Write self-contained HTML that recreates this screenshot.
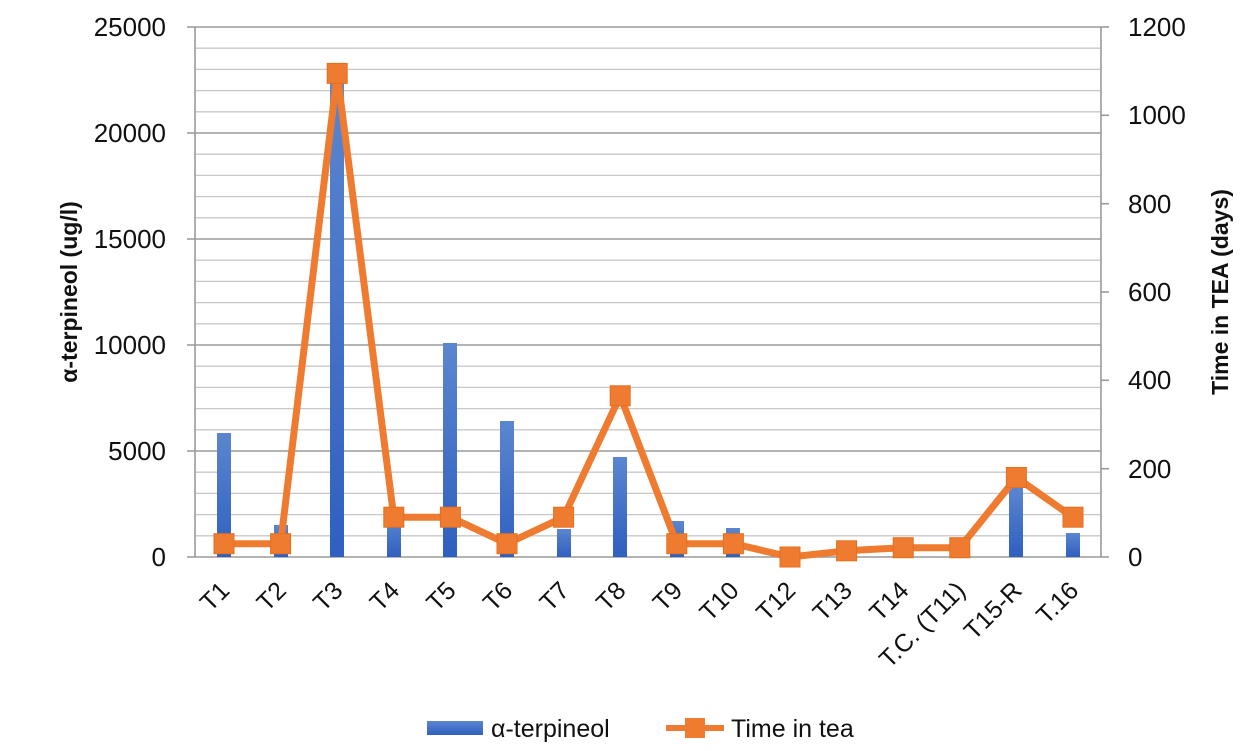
<!DOCTYPE html>
<html><head><meta charset="utf-8"><style>body{margin:0;background:#fff}svg{display:block}text{font-family:"Liberation Sans",sans-serif}</style></head><body>
<svg width="1245" height="751" viewBox="0 0 1245 751" xmlns="http://www.w3.org/2000/svg">
<defs><linearGradient id="g" x1="0" y1="0" x2="0" y2="1"><stop offset="0" stop-color="#5b86cf"/><stop offset="1" stop-color="#2f5fc0"/></linearGradient></defs>
<g stroke="#c8c8c8" stroke-width="1.3">
<line x1="195" x2="1101" y1="535.8" y2="535.8"/><line x1="195" x2="1101" y1="514.6" y2="514.6"/><line x1="195" x2="1101" y1="493.4" y2="493.4"/><line x1="195" x2="1101" y1="472.2" y2="472.2"/>
<line x1="195" x2="1101" y1="429.8" y2="429.8"/><line x1="195" x2="1101" y1="408.6" y2="408.6"/><line x1="195" x2="1101" y1="387.4" y2="387.4"/><line x1="195" x2="1101" y1="366.2" y2="366.2"/>
<line x1="195" x2="1101" y1="323.8" y2="323.8"/><line x1="195" x2="1101" y1="302.6" y2="302.6"/><line x1="195" x2="1101" y1="281.4" y2="281.4"/><line x1="195" x2="1101" y1="260.2" y2="260.2"/>
<line x1="195" x2="1101" y1="217.8" y2="217.8"/><line x1="195" x2="1101" y1="196.6" y2="196.6"/><line x1="195" x2="1101" y1="175.4" y2="175.4"/><line x1="195" x2="1101" y1="154.2" y2="154.2"/>
<line x1="195" x2="1101" y1="111.8" y2="111.8"/><line x1="195" x2="1101" y1="90.6" y2="90.6"/><line x1="195" x2="1101" y1="69.4" y2="69.4"/><line x1="195" x2="1101" y1="48.2" y2="48.2"/>
</g>
<g stroke="#9a9a9a" stroke-width="1.6">
<line x1="187" x2="1101" y1="451" y2="451"/><line x1="187" x2="1101" y1="345" y2="345"/><line x1="187" x2="1101" y1="239" y2="239"/><line x1="187" x2="1101" y1="133" y2="133"/><line x1="187" x2="1101" y1="27" y2="27"/>
<line x1="187" x2="1109" y1="557" y2="557"/>
<line x1="195" x2="195" y1="27" y2="557"/><line x1="1101" x2="1101" y1="27" y2="557"/>
<line x1="1101" x2="1109" y1="27" y2="27"/><line x1="1101" x2="1109" y1="115.3" y2="115.3"/><line x1="1101" x2="1109" y1="203.7" y2="203.7"/><line x1="1101" x2="1109" y1="292" y2="292"/><line x1="1101" x2="1109" y1="380.3" y2="380.3"/><line x1="1101" x2="1109" y1="468.7" y2="468.7"/>
</g>
<g fill="url(#g)">
<rect x="217" y="433" width="14" height="124"/><rect x="274" y="525" width="14" height="32"/><rect x="330" y="78" width="14" height="479"/><rect x="387" y="519" width="14" height="38"/><rect x="443" y="343" width="14" height="214"/><rect x="500" y="421" width="14" height="136"/><rect x="557" y="529" width="14" height="28"/><rect x="613" y="457" width="14" height="100"/><rect x="670" y="521" width="14" height="36"/><rect x="726" y="528" width="14" height="29"/><rect x="1009" y="487" width="14" height="70"/><rect x="1066" y="533" width="14" height="24"/>
</g>
<polyline fill="none" stroke="#ee7b2f" stroke-width="7" stroke-linejoin="round" points="224,543.7 280.6,543.7 337.2,73.4 393.8,517.2 450.4,517.2 507,543.7 563.6,517.2 620.2,395.8 676.8,543.7 733.4,543.7 790,557 846.6,550.8 903.2,547.7 959.8,547.7 1016.4,477.5 1073,517.2"/>
<g fill="#ee7b2f" stroke="#e56f1f" stroke-width="1">
<rect x="214" y="533.7" width="20" height="20"/><rect x="270.6" y="533.7" width="20" height="20"/><rect x="327.2" y="63.4" width="20" height="20"/><rect x="383.8" y="507.2" width="20" height="20"/><rect x="440.4" y="507.2" width="20" height="20"/><rect x="497" y="533.7" width="20" height="20"/><rect x="553.6" y="507.2" width="20" height="20"/><rect x="610.2" y="385.8" width="20" height="20"/><rect x="666.8" y="533.7" width="20" height="20"/><rect x="723.4" y="533.7" width="20" height="20"/><rect x="780" y="547" width="20" height="20"/><rect x="836.6" y="540.8" width="20" height="20"/><rect x="893.2" y="537.7" width="20" height="20"/><rect x="949.8" y="537.7" width="20" height="20"/><rect x="1006.4" y="467.5" width="20" height="20"/><rect x="1063" y="507.2" width="20" height="20"/>
</g>
<g font-size="26" fill="#111" text-anchor="end">
<text x="166" y="36">25000</text><text x="166" y="142">20000</text><text x="166" y="248">15000</text><text x="166" y="354">10000</text><text x="166" y="460">5000</text><text x="166" y="566">0</text>
</g>
<g font-size="26" fill="#111">
<text x="1128" y="36">1200</text><text x="1128" y="124">1000</text><text x="1128" y="213">800</text><text x="1128" y="301">600</text><text x="1128" y="389">400</text><text x="1128" y="478">200</text><text x="1128" y="566">0</text>
</g>
<g font-size="25" fill="#111" text-anchor="end">
<text transform="translate(231,592) rotate(-45)">T1</text>
<text transform="translate(287.6,592) rotate(-45)">T2</text>
<text transform="translate(344.2,592) rotate(-45)">T3</text>
<text transform="translate(400.8,592) rotate(-45)">T4</text>
<text transform="translate(457.4,592) rotate(-45)">T5</text>
<text transform="translate(514,592) rotate(-45)">T6</text>
<text transform="translate(570.6,592) rotate(-45)">T7</text>
<text transform="translate(627.2,592) rotate(-45)">T8</text>
<text transform="translate(683.8,592) rotate(-45)">T9</text>
<text transform="translate(740.4,592) rotate(-45)">T10</text>
<text transform="translate(797,592) rotate(-45)">T12</text>
<text transform="translate(853.6,592) rotate(-45)">T13</text>
<text transform="translate(910.2,592) rotate(-45)">T14</text>
<text transform="translate(966.8,592) rotate(-45)">T.C. (T11)</text>
<text transform="translate(1023.4,592) rotate(-45)">T15-R</text>
<text transform="translate(1080,592) rotate(-45)">T.16</text>
</g>
<text transform="translate(77,292) rotate(-90)" font-size="23" font-weight="bold" text-anchor="middle" fill="#111">α-terpineol  (ug/l)</text>
<text transform="translate(1228,292) rotate(-90)" font-size="23" font-weight="bold" text-anchor="middle" fill="#111">Time in TEA (days)</text>
<rect x="427" y="721" width="56" height="14" fill="url(#g)"/>
<text x="491" y="737" font-size="25" fill="#111">α-terpineol</text>
<line x1="666" x2="724" y1="728" y2="728" stroke="#ee7b2f" stroke-width="6"/>
<rect x="685" y="718" width="20" height="20" fill="#ee7b2f"/>
<text x="731" y="737" font-size="25" fill="#111">Time in tea</text>
</svg>
</body></html>
